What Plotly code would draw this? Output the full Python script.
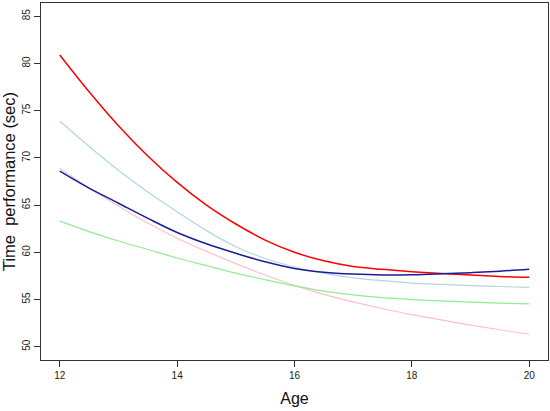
import plotly.graph_objects as go

age = [12, 12.5, 13, 13.5, 14, 14.5, 15, 15.5, 16, 16.5, 17, 17.5, 18, 18.5, 19, 19.5, 20]

red_vals = [80.9, 77.0, 73.4, 70.2, 67.4, 65.0, 63.0, 61.3, 60.0, 59.1, 58.5, 58.2, 57.95, 57.75, 57.6, 57.45, 57.35]
lightblue_vals = [73.9, 71.2, 68.7, 66.4, 64.3, 62.3, 60.6, 59.35, 58.45, 57.8, 57.3, 57.0, 56.75, 56.6, 56.47, 56.38, 56.3]
navy_vals = [68.6, 66.8, 65.2, 63.6, 62.1, 60.9, 59.9, 59.0, 58.3, 57.9, 57.7, 57.6, 57.62, 57.72, 57.85, 58.0, 58.2]
pink_vals = [68.9, 66.8, 64.9, 63.1, 61.5, 60.1, 58.8, 57.6, 56.5, 55.55, 54.75, 54.05, 53.4, 52.85, 52.3, 51.8, 51.35]
green_vals = [63.3, 62.2, 61.2, 60.3, 59.4, 58.6, 57.8, 57.1, 56.45, 55.9, 55.5, 55.2, 55.0, 54.85, 54.72, 54.62, 54.55]

x_ticks = [12, 14, 16, 18, 20]
y_ticks = [50, 55, 60, 65, 70, 75, 80, 85]

series = [
    (lightblue_vals, "#ADD8E6", 1.2),
    (pink_vals, "#FFC0CB", 1.2),
    (green_vals, "#90EE90", 1.2),
    (red_vals, "#FF0000", 1.5),
    (navy_vals, "#1c1c96", 1.5),
]

fig = go.Figure()
for vals, col, w in series:
    fig.add_trace(go.Scatter(x=age, y=vals, mode="lines", line=dict(color=col, width=w, shape="spline"),
                             showlegend=False))

axis_common = dict(
    showgrid=False, zeroline=False,
    showline=True, linecolor="#333333", linewidth=1, mirror=True,
    ticks="outside", ticklen=6, tickcolor="#333333", tickwidth=1,
    tickfont=dict(family="Liberation Sans, Arial", size=10, color="#222222"),
)

fig.update_layout(
    width=550, height=411,
    margin=dict(l=41, r=2, t=3, b=51),
    paper_bgcolor="white", plot_bgcolor="white",
    xaxis=dict(range=[11.68, 20.32], tickvals=x_ticks,
               title=dict(text="Age", font=dict(family="Liberation Sans, Arial", size=16, color="#111111"),
                          standoff=12),
               **axis_common),
    yaxis=dict(range=[48.6, 86.4], tickvals=y_ticks, tickangle=-90,
               title=dict(text="Time\u00a0 performance (sec)",
                          font=dict(family="Liberation Sans, Arial", size=16.5, color="#111111"),
                          standoff=4),
               **axis_common),
)

# drop the page's default body margin so the figure sits at the window corner
fig.write_html("out.html", config={"displayModeBar": False},
               post_script="document.body.style.margin='0';")
